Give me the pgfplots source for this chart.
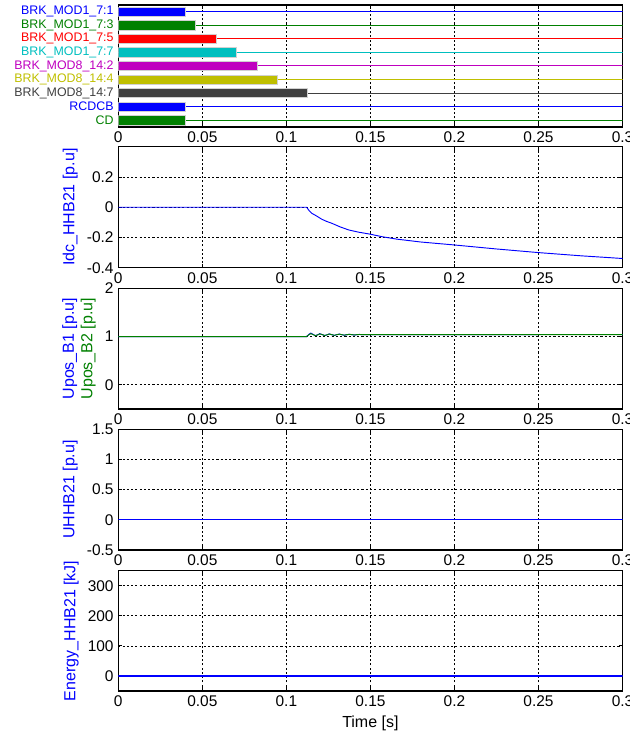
\documentclass[border=0pt]{standalone}
\usepackage{pgfplots}
\pgfplotsset{compat=1.18}
\usepackage{fontspec}
\setmainfont{Liberation Sans}

\definecolor{mblue}{rgb}{0,0,1}
\definecolor{mgreen}{rgb}{0,0.5,0}
\definecolor{mred}{rgb}{1,0,0}
\definecolor{mcyan}{rgb}{0,0.75,0.75}
\definecolor{mmag}{rgb}{0.75,0,0.75}
\definecolor{molive}{rgb}{0.75,0.75,0}
\definecolor{mgray}{rgb}{0.25,0.25,0.25}

\pgfplotsset{
  panel/.style={
    scale only axis, width=378.2pt,
    anchor=north west,
    xmin=0, xmax=0.3,
    xtick={0,0.05,0.1,0.15,0.2,0.25,0.3},
    xticklabels={0,0.05,0.1,0.15,0.2,0.25,0.3},
    axis line style={black, line width=1pt},
    tick style={black, line width=0.6pt},
    tick align=inside, major tick length=3pt,
    xmajorgrids, ymajorgrids,
    major grid style={black, line width=0.55pt, dash pattern=on 1.6pt off 1.6pt},
    tick label style={font=\fontsize{11.6}{13}\selectfont, text=black},
    label style={font=\fontsize{12}{14}\selectfont},
    /pgf/number format/assume math mode=true,
    axis background/.style={fill=white},
    ylabel style={text=mblue},
    scaled ticks=false,
  },
  breaker/.style={xbar, bar width=7pt, bar shift=0pt, draw=black!18, line width=0.5pt},
  signal/.style={line width=0.75pt},
}

\begin{document}
\begin{tikzpicture}
\path[use as bounding box] (0,0) rectangle (471.75pt,551.25pt);

% breaker trip signals
\begin{axis}[panel, at={(88.7pt,547.5pt)}, height=91.5pt,
  ymin=0.5, ymax=9.5, ymajorgrids=false,
  ytick={1,2,3,4,5,6,7,8,9},
  ytick style={draw=none},
  yticklabel style={font=\fontsize{9.3}{11}\selectfont},
  yticklabels={
    \textcolor{mgreen}{CD},
    \textcolor{mblue}{RCDCB},
    \textcolor{mgray}{BRK\_MOD8\_14:7},
    \textcolor{molive}{BRK\_MOD8\_14:4},
    \textcolor{mmag}{BRK\_MOD8\_14:2},
    \textcolor{mcyan}{BRK\_MOD1\_7:7},
    \textcolor{mred}{BRK\_MOD1\_7:5},
    \textcolor{mgreen}{BRK\_MOD1\_7:3},
    \textcolor{mblue}{BRK\_MOD1\_7:1}},
]
\addplot[signal, mblue]  coordinates {(0,9) (0.3,9)};
\addplot[signal, mgreen] coordinates {(0,8) (0.3,8)};
\addplot[signal, mred]   coordinates {(0,7) (0.3,7)};
\addplot[signal, mcyan]  coordinates {(0,6) (0.3,6)};
\addplot[signal, mmag]   coordinates {(0,5) (0.3,5)};
\addplot[signal, molive] coordinates {(0,4) (0.3,4)};
\addplot[signal, mgray]  coordinates {(0,3) (0.3,3)};
\addplot[signal, mblue]  coordinates {(0,2) (0.3,2)};
\addplot[signal, mgreen] coordinates {(0,1) (0.3,1)};
\addplot[breaker, fill=mblue]  coordinates {(0.0400,9)};
\addplot[breaker, fill=mgreen] coordinates {(0.0460,8)};
\addplot[breaker, fill=mred]   coordinates {(0.0582,7)};
\addplot[breaker, fill=mcyan]  coordinates {(0.0705,6)};
\addplot[breaker, fill=mmag]   coordinates {(0.0826,5)};
\addplot[breaker, fill=molive] coordinates {(0.0945,4)};
\addplot[breaker, fill=mgray]  coordinates {(0.1125,3)};
\addplot[breaker, fill=mblue]  coordinates {(0.0400,2)};
\addplot[breaker, fill=mgreen] coordinates {(0.0400,1)};
\end{axis}

% breaker current
\begin{axis}[panel, at={(88.7pt,441.2pt)}, height=90.75pt,
  ymin=-0.4, ymax=0.4,
  ytick={-0.4,-0.2,0,0.2}, yticklabels={-0.4,-0.2,0,0.2},
  ylabel={Idc\_HHB21 [p.u]},
]
\addplot[mblue, line width=0.7pt] coordinates {
  (0,0) (0.1121,0) (0.1135,-0.022) (0.1151,-0.040) (0.1180,-0.058)
  (0.1210,-0.079) (0.1240,-0.094) (0.1270,-0.106) (0.1320,-0.130)
  (0.1370,-0.150) (0.1430,-0.165) (0.1498,-0.178) (0.1570,-0.195)
  (0.1657,-0.211) (0.1800,-0.230) (0.1994,-0.249) (0.2250,-0.276)
  (0.2500,-0.300) (0.2750,-0.321) (0.3000,-0.339)};
\end{axis}

% pole voltages
\begin{axis}[panel, at={(88.7pt,335.0pt)}, height=90.5pt,
  ymin=-0.5, ymax=2,
  ytick={0,1,2}, yticklabels={0,1,2},
  ylabel={\textcolor{mblue}{Upos\_B1 [p.u]}\\\textcolor{mgreen}{Upos\_B2 [p.u]}},
  ylabel style={align=center},
]
\addplot[mblue, line width=0.7pt] coordinates {
  (0,1) (0.1120,1) (0.1135,1.050) (0.1145,1.072) (0.1160,1.045)
  (0.1172,1.020) (0.1190,1.042) (0.1198,1.060) (0.1215,1.040)
  (0.1228,1.022) (0.1245,1.040) (0.1255,1.055) (0.1270,1.040)
  (0.1286,1.025) (0.1300,1.040) (0.1315,1.052) (0.1330,1.040)
  (0.1345,1.028) (0.1360,1.040) (0.1375,1.048) (0.1390,1.040)
  (0.1405,1.032) (0.1420,1.040) (0.1435,1.045) (0.1450,1.040)
  (0.3000,1.044)};
\addplot[mgreen, line width=0.7pt] coordinates {
  (0,1) (0.1120,1) (0.1135,1.040) (0.1145,1.060) (0.1160,1.040)
  (0.1172,1.018) (0.1190,1.040) (0.1198,1.056) (0.1215,1.040)
  (0.1228,1.022) (0.1245,1.040) (0.1255,1.053) (0.1270,1.040)
  (0.1286,1.026) (0.1300,1.040) (0.1315,1.050) (0.1330,1.040)
  (0.1345,1.030) (0.1360,1.040) (0.1375,1.046) (0.1390,1.040)
  (0.1405,1.034) (0.1420,1.040) (0.1435,1.044) (0.1450,1.040)
  (0.3000,1.042)};
\end{axis}

% breaker voltage
\begin{axis}[panel, at={(88.7pt,229.3pt)}, height=90.5pt,
  ymin=-0.5, ymax=1.5,
  ytick={-0.5,0,0.5,1,1.5}, yticklabels={-0.5,0,0.5,1,1.5},
  ylabel={UHHB21 [p.u]},
]
\addplot[mblue, line width=0.9pt] coordinates {(0,0) (0.3,0)};
\end{axis}

% absorbed energy
\begin{axis}[panel, at={(88.7pt,123.2pt)}, height=90.2pt,
  ymin=-50, ymax=350,
  ytick={0,100,200,300}, yticklabels={0,100,200,300},
  ylabel={Energy\_HHB21 [kJ]},
  xlabel={Time [s]},
]
\addplot[mblue, line width=0.9pt] coordinates {(0,0) (0.3,0)};
\end{axis}
\end{tikzpicture}
\end{document}
